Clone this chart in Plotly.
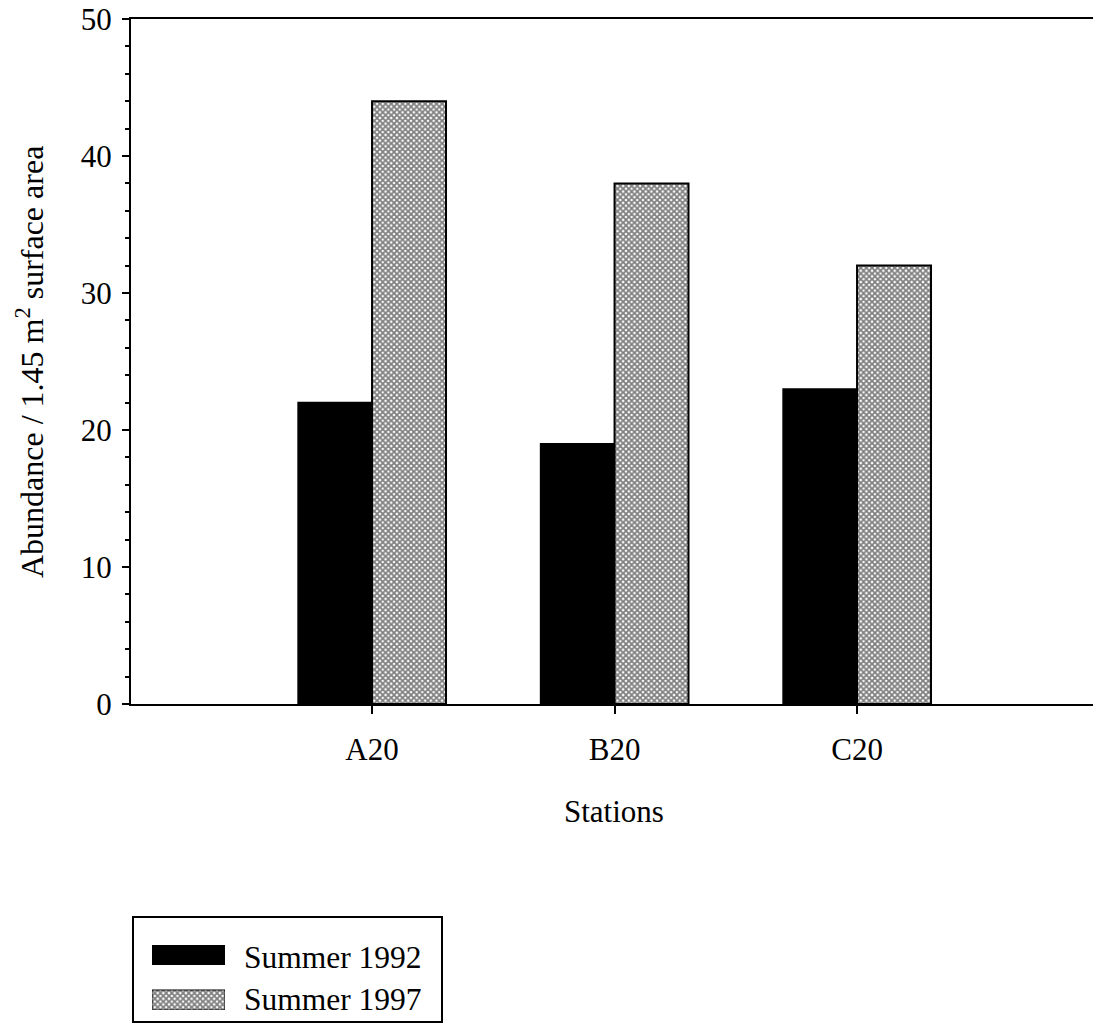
import plotly.graph_objects as go

# Station abundance data
stations = ["A20", "B20", "C20"]
series_names = ["Summer 1992", "Summer 1997"]
summer_1992 = [22, 19, 23]
summer_1997 = [44, 38, 32]

W, H = 1093, 1035
TOP, BOTTOM = 19, 18
PAPER_BOTTOM = H - BOTTOM
PH = PAPER_BOTTOM - TOP


def px_x(p):
    return p / W


def px_y(p):
    return (PAPER_BOTTOM - p) / PH


FONT = "Liberation Serif, Times New Roman, serif"
hatch = dict(shape="x", fgcolor="black", bgcolor="white", size=4, solidity=0.7)

fig = go.Figure()

fig.add_trace(go.Bar(
    x=stations, y=summer_1992, name=series_names[0],
    marker=dict(color="black", line=dict(color="black", width=1.5)),
    showlegend=False,
))
fig.add_trace(go.Bar(
    x=stations, y=summer_1997, name=series_names[1],
    marker=dict(color="white", pattern=hatch, line=dict(color="black", width=2)),
    showlegend=False,
))

# Legend keys drawn as small horizontal bars on their own axes
fig.add_trace(go.Bar(
    y=[series_names[0]], x=[1], orientation="h", xaxis="x2", yaxis="y2",
    marker=dict(color="black", line=dict(color="black", width=1)),
    width=0.44, showlegend=False, hoverinfo="skip",
))
fig.add_trace(go.Bar(
    y=[series_names[1]], x=[1], orientation="h", xaxis="x2", yaxis="y2",
    marker=dict(color="white", pattern=hatch, line=dict(color="black", width=1)),
    width=0.44, showlegend=False, hoverinfo="skip",
))

fig.update_layout(
    width=W, height=H,
    margin=dict(l=0, r=0, t=TOP, b=BOTTOM),
    paper_bgcolor="white", plot_bgcolor="white",
    font=dict(family=FONT, size=31, color="black"),
    barmode="group", bargap=0.39, bargroupgap=0,
    showlegend=False,
    xaxis=dict(
        domain=[px_x(131), 1],
        range=[-0.994, 2.973],
        showline=True, linecolor="black", linewidth=2, mirror=True,
        ticks="outside", ticklen=8, tickwidth=2, tickcolor="black",
        ticklabelstandoff=9,
        showgrid=False, zeroline=False,
        tickfont=dict(family=FONT, size=31, color="black"),
    ),
    yaxis=dict(
        domain=[px_y(704), 1],
        range=[0, 50],
        dtick=10,
        showline=True, linecolor="black", linewidth=2,
        ticks="outside", ticklen=7, tickwidth=2, tickcolor="black",
        ticklabelstandoff=4,
        minor=dict(dtick=2, ticks="outside", ticklen=4, tickwidth=1.5, tickcolor="black"),
        showgrid=False, zeroline=False,
        tickfont=dict(family=FONT, size=31, color="black"),
    ),
    xaxis2=dict(
        domain=[px_x(152), px_x(225)], range=[0, 1], anchor="y2",
        visible=False, fixedrange=True,
    ),
    yaxis2=dict(
        domain=[px_y(1010), px_y(945)], anchor="x2",
        type="category", categoryorder="array",
        categoryarray=[series_names[1], series_names[0]],
        range=[-0.22, 1.209], visible=False, fixedrange=True,
    ),
)

# Axis titles
fig.add_annotation(
    x=px_x(30), y=px_y(362), xref="paper", yref="paper",
    text="Abundance / 1.45 m<sup>2</sup> surface area", textangle=-90,
    showarrow=False, xanchor="center", yanchor="middle",
    font=dict(family=FONT, size=32, color="black"),
)
fig.add_annotation(
    x=px_x(614), y=px_y(811), xref="paper", yref="paper",
    text="Stations", showarrow=False, xanchor="center", yanchor="middle",
    font=dict(family=FONT, size=31, color="black"),
)

# Legend frame and labels
fig.add_shape(
    type="rect", xref="paper", yref="paper",
    x0=px_x(133), x1=px_x(442), y0=px_y(1022), y1=px_y(917),
    line=dict(color="black", width=2), fillcolor="rgba(0,0,0,0)", layer="below",
)
for name, yc in zip(series_names, [957, 999]):
    fig.add_annotation(
        x=px_x(242), y=px_y(yc), xref="paper", yref="paper",
        text=name, showarrow=False, xanchor="left", yanchor="middle",
        font=dict(family=FONT, size=31.5, color="black"),
    )

fig.write_html("out.html")
